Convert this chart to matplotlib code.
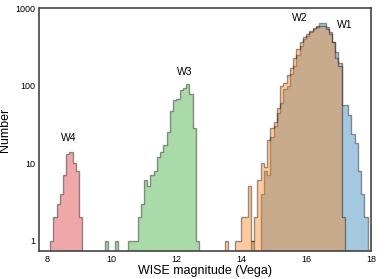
import numpy as np
import matplotlib
matplotlib.use('Agg')
import matplotlib.pyplot as plt
from matplotlib.ticker import FuncFormatter

plt.rcParams['font.family'] = ['Liberation Sans', 'DejaVu Sans']

# counts per 0.1 mag bin, first bin starts at *_start
bin_width = 0.1
w4_start = 8.1
w4_counts = [1, 2, 3, 4, 7, 13, 14, 10, 8, 2]
w3_start = 9.8
w3_counts = [1, 0, 0, 1, 0, 0, 0, 1, 1, 1, 2, 3, 6, 5, 7, 8, 12, 14, 17, 25,
             47, 65, 67, 88, 94, 104, 78, 28, 1]
w2_start = 13.5
w2_counts = [1, 0, 0, 1, 1, 2, 2, 5, 1, 2, 6, 10, 9, 20, 28, 34, 52, 100, 107,
             137, 170, 230, 300, 370, 430, 470, 500, 550, 575, 590, 580, 540,
             470, 360, 230, 180, 2]
w1_start = 14.3
w1_counts = [1, 0, 0, 4, 8, 7, 22, 30, 45, 60, 90, 100, 140, 180, 250, 320, 400,
             440, 490, 540, 580, 650, 640, 565, 497, 369, 274, 195, 57, 57, 42,
             24, 18, 8, 4, 2]

bands = ['W1', 'W2', 'W3', 'W4']
colors = ['tab:blue', 'tab:orange', 'tab:green', 'tab:red']
label_pos = {'W1': (17.18, 520), 'W2': (15.8, 640), 'W3': (12.25, 130), 'W4': (8.68, 18)}

data = {'W1': (w1_start, w1_counts), 'W2': (w2_start, w2_counts),
        'W3': (w3_start, w3_counts), 'W4': (w4_start, w4_counts)}

fig = plt.figure(figsize=(3.9, 2.79), dpi=100)
ax = fig.add_axes([0.1, 0.101, 0.851, 0.87])

for band, c in zip(bands, colors):
    start, counts = data[band]
    counts = np.array(counts, dtype=float)
    edges = start + bin_width * np.arange(len(counts) + 1)
    centers = 0.5 * (edges[:-1] + edges[1:])
    ax.hist(centers, bins=edges, weights=counts, histtype='stepfilled',
            log=True, color=c, alpha=0.4, ec='k', lw=1)
    ax.text(*label_pos[band], band, fontsize=7.5, ha='center', va='bottom')

ax.set_yscale('log')
ax.set_ylim(0.74, 1000)
ax.set_xlim(7.76, 18)
ax.set_xticks([8, 10, 12, 14, 16, 18])
ax.yaxis.set_major_formatter(FuncFormatter(lambda v, p: '%d' % v))
ax.yaxis.set_minor_locator(matplotlib.ticker.NullLocator())
ax.tick_params(length=0, labelsize=6.5, pad=3)
for s in ax.spines.values():
    s.set_color('#444444')
    s.set_linewidth(1.2)
ax.set_xlabel('WISE magnitude (Vega)', fontsize=9, labelpad=1)
ax.set_ylabel('Number', fontsize=9)
ax.yaxis.set_label_coords(-0.083, 0.5)

fig.savefig('out.png', dpi=100)
